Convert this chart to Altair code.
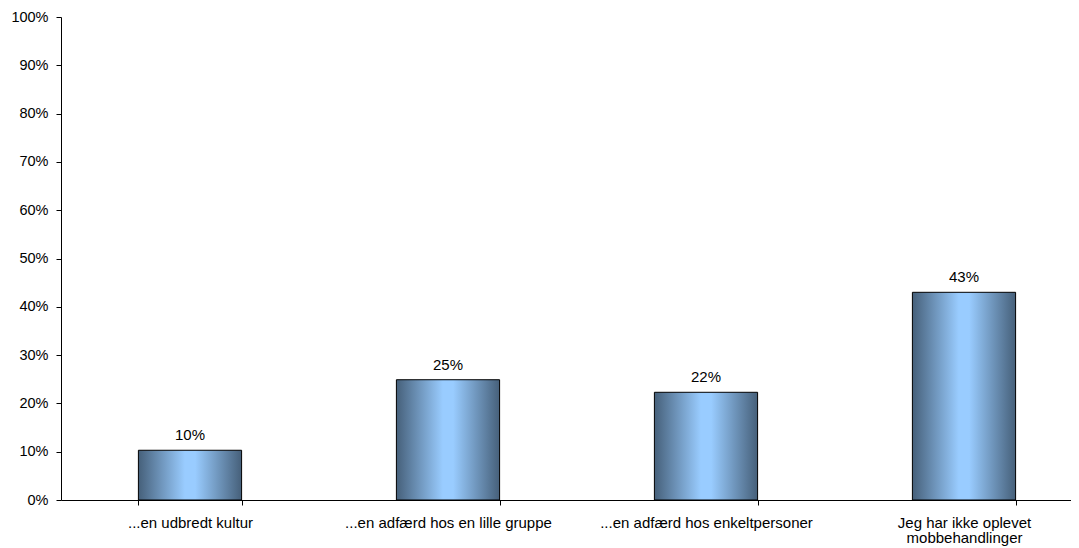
import altair as alt
import pandas as pd

categories = ["...en udbredt kultur", "...en adfærd hos en lille gruppe",
              "...en adfærd hos enkeltpersoner", "Jeg har ikke oplevet mobbehandlinger"]
values = [0.103, 0.249, 0.223, 0.43]
labels = ["10%", "25%", "22%", "43%"]

df = pd.DataFrame({"cat": categories, "val": values, "lbl": labels})

grad = alt.Gradient(
    gradient="linear", x1=0, x2=1, y1=0, y2=0,
    stops=[alt.GradientStop(offset=0, color="#46607a"),
           alt.GradientStop(offset=0.45, color="#99ccff"),
           alt.GradientStop(offset=0.55, color="#99ccff"),
           alt.GradientStop(offset=1, color="#46607a")])

x = alt.X("cat:N", sort=categories, title=None,
          scale=alt.Scale(range=[0, 1032], paddingInner=0.6, paddingOuter=0.3),
          axis=alt.Axis(labelAngle=0, tickBand="extent", tickSize=5, tickColor="black",
                        domainColor="black", labelColor="black", labelFontSize=15,
                        labelFont="Liberation Sans", labelPadding=10, labelLimit=400,
                        labelLineHeight=15,
                        labelExpr="datum.label == 'Jeg har ikke oplevet mobbehandlinger' ? ['Jeg har ikke oplevet', 'mobbehandlinger'] : datum.label"))
y = alt.Y("val:Q", title=None,
          scale=alt.Scale(domain=[0, 1], nice=False),
          axis=alt.Axis(format=".0%", values=[i / 10 for i in range(11)], grid=False,
                        tickSize=5, tickColor="black", domainColor="black",
                        labelColor="black", labelFontSize=14.5, labelFont="Liberation Sans",
                        labelPadding=8))

bars = alt.Chart(df).mark_bar(fill=grad, stroke="black", strokeWidth=1).encode(x=x, y=y)
text = alt.Chart(df).mark_text(dy=-15, fontSize=15, font="Liberation Sans", color="black").encode(
    x=alt.X("cat:N", sort=categories), y="val:Q", text="lbl:N")

chart = alt.layer(bars, text).properties(
    width=1010, height=483,
    autosize=alt.AutoSizeParams(type="none"),
    padding={"left": 53, "top": 9, "right": 0, "bottom": 47},
).configure_view(stroke=None)

chart.save("out.html", embed_options={"renderer": "svg", "actions": False})
